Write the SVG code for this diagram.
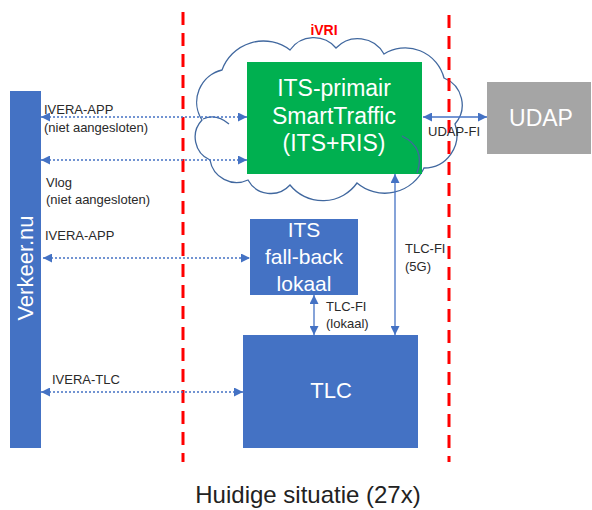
<svg xmlns="http://www.w3.org/2000/svg" width="592" height="510" viewBox="0 0 592 510">
<style>
.lbl{font-family:"Liberation Sans",Arial,sans-serif;font-size:13px;fill:#2a2a2a}
.wt{font-family:"Liberation Sans",Arial,sans-serif;fill:#ffffff;text-anchor:middle}
.dot{stroke:#4472C4;stroke-width:1.6;stroke-dasharray:2 2;fill:none}
.sol{stroke:#4472C4;stroke-width:1.3;fill:none}
.red{stroke:#FF0000;stroke-width:3;stroke-dasharray:13 8;fill:none}
</style>
<defs>
<marker id="ah" viewBox="0 0 10 10" refX="10" refY="5" markerWidth="9" markerHeight="9" markerUnits="userSpaceOnUse" orient="auto-start-reverse">
<path d="M0,0 L10,5 L0,10 z" fill="#4472C4"/>
</marker>
</defs>
<rect width="592" height="510" fill="#ffffff"/>
<g id="ivri-cloud">
<path d="M202,120 A33,33 0 0 1 222,70 A44,44 0 0 1 290,50 A29,29 0 0 1 336,48 A30,30 0 0 1 384,54 A40,40 0 0 1 444,78 A29,29 0 0 1 455,124 A33,33 0 0 1 424,168 A43,43 0 0 1 357,183 A42,42 0 0 1 290,185 A26,26 0 0 1 248,180 A27,27 0 0 1 210,160 A25,25 0 0 1 202,120 Z" fill="#ffffff" stroke="#41689F" stroke-width="1.3"/>
<path d="M203,119 Q216,113 229,124" fill="none" stroke="#41689F" stroke-width="1.3"/>
<text x="324" y="35" text-anchor="middle" font-family="Liberation Sans, Arial, sans-serif" font-size="14" font-weight="bold" fill="#FF0000">iVRI</text>
</g>
<g id="boundaries">
<line class="red" x1="183" y1="12" x2="183" y2="462"/>
<line class="red" x1="449" y1="15" x2="449" y2="462"/>
</g>
<g id="its-primair">
<rect x="247" y="62" width="175" height="112" fill="#00B050"/>
<path d="M402,136 Q426,148 417,173" fill="none" stroke="#41689F" stroke-width="1.3"/>
<text class="wt" x="334" y="96" font-size="23">ITS-primair</text>
<text class="wt" x="334" y="124" font-size="23">SmartTraffic</text>
<text class="wt" x="334" y="151" font-size="23">(ITS+RIS)</text>
</g>
<g id="udap">
<rect x="487" y="82" width="104" height="72" fill="#A5A5A5"/>
<text class="wt" x="541" y="126" font-size="23">UDAP</text>
</g>
<g id="verkeer">
<rect x="10" y="91" width="31" height="357" fill="#4472C4"/>
<text class="wt" x="0" y="0" font-size="22" transform="translate(33,268) rotate(-90)">Verkeer.nu</text>
</g>
<g id="its-fallback">
<rect x="250" y="219" width="108" height="76" fill="#4472C4"/>
<text class="wt" x="304" y="237" font-size="21">ITS</text>
<text class="wt" x="304" y="264" font-size="21">fall-back</text>
<text class="wt" x="304" y="291" font-size="21">lokaal</text>
</g>
<g id="tlc">
<rect x="243" y="335" width="175" height="113" fill="#4472C4"/>
<text class="wt" x="331" y="398" font-size="22">TLC</text>
</g>
<g id="connectors">
<line class="dot" x1="41" y1="117" x2="247" y2="117" marker-start="url(#ah)" marker-end="url(#ah)"/>
<line class="dot" x1="41" y1="160" x2="247" y2="160" marker-start="url(#ah)" marker-end="url(#ah)"/>
<line class="dot" x1="43" y1="258" x2="250" y2="258" marker-start="url(#ah)" marker-end="url(#ah)"/>
<line class="dot" x1="41" y1="392" x2="243" y2="392" marker-start="url(#ah)" marker-end="url(#ah)"/>
<line class="sol" x1="423" y1="117" x2="487" y2="117" marker-start="url(#ah)" marker-end="url(#ah)"/>
<line class="sol" x1="314" y1="295" x2="314" y2="335" marker-start="url(#ah)" marker-end="url(#ah)"/>
<line class="sol" x1="395" y1="174" x2="395" y2="335" marker-start="url(#ah)" marker-end="url(#ah)"/>
</g>
<g id="labels">
<text class="lbl" x="44" y="114">IVERA-APP</text>
<text class="lbl" x="44" y="132">(niet aangesloten)</text>
<text class="lbl" x="46" y="187">Vlog</text>
<text class="lbl" x="46" y="204">(niet aangesloten)</text>
<text class="lbl" x="45" y="240">IVERA-APP</text>
<text class="lbl" x="52" y="384">IVERA-TLC</text>
<text class="lbl" x="428" y="136">UDAP-FI</text>
<text class="lbl" x="405" y="253">TLC-FI</text>
<text class="lbl" x="405" y="271">(5G)</text>
<text class="lbl" x="326" y="311">TLC-FI</text>
<text class="lbl" x="326" y="328">(lokaal)</text>
</g>
<text x="308" y="503" text-anchor="middle" font-family="Liberation Sans, Arial, sans-serif" font-size="24" fill="#222222">Huidige situatie (27x)</text>
</svg>
